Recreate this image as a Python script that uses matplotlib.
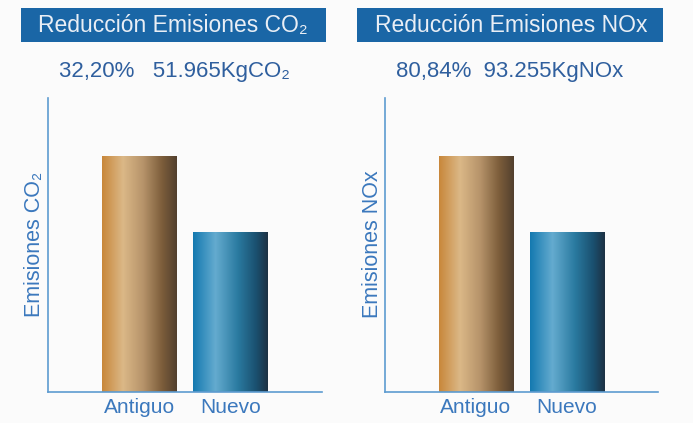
import numpy as np
import matplotlib
matplotlib.use("Agg")
import matplotlib.pyplot as plt
from matplotlib.colors import LinearSegmentedColormap
from matplotlib.patches import Rectangle

plt.rcParams['font.family'] = ['Liberation Sans', 'DejaVu Sans']

# ---- data ----
categories = ["Antiguo", "Nuevo"]
co2_values = [100.0, 67.8]
nox_values = [100.0, 67.8]
titles = ["Reducción Emisiones CO₂", "Reducción Emisiones NOx"]
subtitles = ["32,20%   51.965KgCO₂", "80,84%  93.255KgNOx"]
ylabels = ["Emisiones CO₂", "Emisiones NOx"]

# ---- styles ----
BG = "#fbfbfb"
BOX = "#1a66a6"
SUB = "#2f5f9e"
AXC = "#5d9bd0"
LAB = "#3b78bd"

gold = LinearSegmentedColormap.from_list("gold", [
    (0.0, "#c8873a"), (0.28, "#dbb887"), (0.55, "#b6936a"),
    (0.8, "#7d5e3b"), (1.0, "#52402e")])
blue = LinearSegmentedColormap.from_list("blue", [
    (0.0, "#1479b0"), (0.3, "#64abcf"), (0.6, "#2a7aa0"),
    (0.85, "#1a4f6e"), (1.0, "#1d3143")])
cmaps = [gold, blue]

fig = plt.figure(figsize=(6.93, 4.23), dpi=100, facecolor=BG)

axes_pos = [[48/693, 31/423, 274/693, 294/423],
            [385/693, 31/423, 273/693, 294/423]]
box_pos = [[21/693, 381/423, 305/693, 34/423],
           [357/693, 381/423, 306/693, 34/423]]
title_x = [173/693, 511/693]
sub_x = [174/693, 510/693]
ylab_x = [35/693, 372/693]

for i, vals in enumerate([co2_values, nox_values]):
    ax = fig.add_axes(axes_pos[i])
    ax.set_facecolor(BG)
    width = 0.82
    grad = np.linspace(0, 1, 256).reshape(1, -1)
    for j, v in enumerate(vals):
        ax.imshow(grad, cmap=cmaps[j], aspect='auto',
                  extent=[j - width/2, j + width/2, 0, v], zorder=2)
    ax.set_xlim(-1.0, 2.0)
    ax.set_ylim(0, 124.6)
    for s in ["top", "right"]:
        ax.spines[s].set_visible(False)
    for s in ["left", "bottom"]:
        ax.spines[s].set_color(AXC)
        ax.spines[s].set_linewidth(1.2)
    ax.set_yticks([])
    ax.set_xticks(range(len(categories)))
    ax.set_xticklabels(categories, fontsize=15, color=LAB)
    ax.tick_params(axis='x', length=0, pad=4)

    fig.patches.append(Rectangle((box_pos[i][0], box_pos[i][1]),
                                 box_pos[i][2], box_pos[i][3],
                                 transform=fig.transFigure, facecolor=BOX,
                                 edgecolor='none'))
    fig.text(title_x[i], 1 - 25/423, titles[i], ha='center', va='center',
             fontsize=16.5, color="#e9eef5")
    fig.text(sub_x[i], 1 - 72/423, subtitles[i], ha='center', va='center',
             fontsize=16, color=SUB)
    fig.text(ylab_x[i], 1 - 244/423, ylabels[i], ha='center', va='center',
             rotation=90, fontsize=15.5, color=LAB)

fig.savefig("out.png", dpi=100, facecolor=BG)
